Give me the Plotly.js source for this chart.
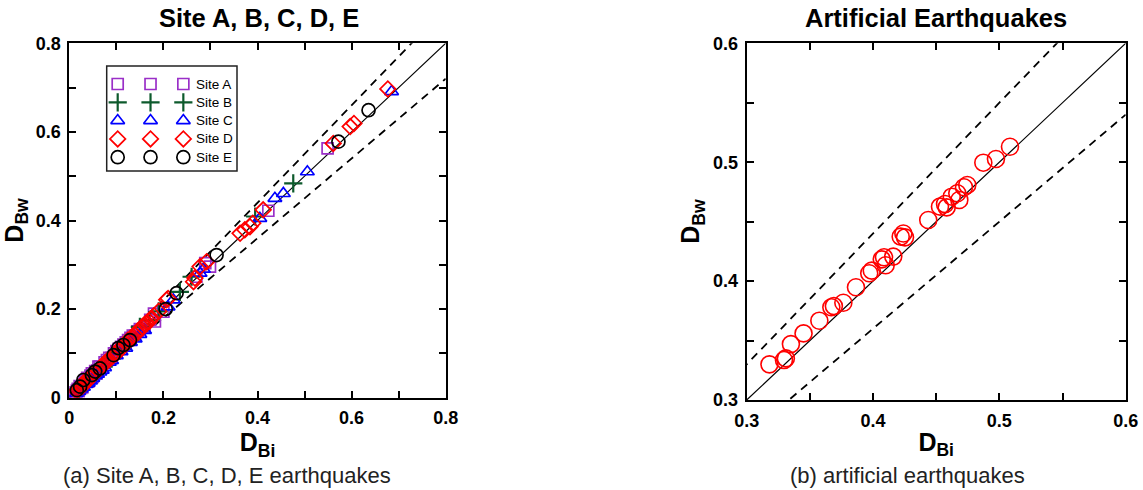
<!DOCTYPE html>
<html>
<head>
<meta charset="utf-8">
<script src="https://cdn.plot.ly/plotly-3.0.1.min.js"></script>
<style>
  html, body { margin: 0; padding: 0; background: #fff; }
  #chart { width: 1143px; height: 490px; }
</style>
</head>
<body>
<div id="chart"></div>
<script>
// ---------- Data ----------
const siteLabels = ['Site A', 'Site B', 'Site C', 'Site D', 'Site E'];

const siteA_x = [0.008, 0.010, 0.012, 0.012, 0.015, 0.016, 0.018, 0.020, 0.022, 0.025, 0.028, 0.030, 0.033, 0.035, 0.038, 0.040, 0.042, 0.045, 0.048, 0.050, 0.055, 0.058, 0.060, 0.062, 0.065, 0.070, 0.075, 0.080, 0.085, 0.090, 0.095, 0.100, 0.105, 0.110, 0.115, 0.120, 0.125, 0.130, 0.135, 0.140, 0.145, 0.150, 0.160, 0.172, 0.180, 0.182, 0.200, 0.270, 0.289, 0.299, 0.423, 0.549];
const siteA_y = [0.005, 0.008, 0.006, 0.012, 0.010, 0.016, 0.020, 0.015, 0.026, 0.022, 0.024, 0.030, 0.036, 0.040, 0.045, 0.036, 0.040, 0.050, 0.055, 0.047, 0.060, 0.055, 0.062, 0.070, 0.070, 0.068, 0.080, 0.085, 0.090, 0.090, 0.100, 0.105, 0.110, 0.115, 0.120, 0.125, 0.130, 0.135, 0.140, 0.140, 0.150, 0.155, 0.160, 0.176, 0.190, 0.172, 0.194, 0.273, 0.304, 0.296, 0.422, 0.563];

const siteB_x = [0.020, 0.030, 0.050, 0.070, 0.090, 0.110, 0.130, 0.150, 0.170, 0.190, 0.235, 0.260, 0.395, 0.476];
const siteB_y = [0.020, 0.028, 0.052, 0.072, 0.088, 0.112, 0.128, 0.160, 0.175, 0.195, 0.239, 0.273, 0.409, 0.484];

const siteC_x = [0.015, 0.020, 0.025, 0.030, 0.035, 0.040, 0.045, 0.050, 0.055, 0.060, 0.065, 0.070, 0.075, 0.085, 0.090, 0.100, 0.110, 0.120, 0.130, 0.140, 0.150, 0.160, 0.210, 0.221, 0.278, 0.285, 0.405, 0.437, 0.455, 0.506, 0.685];
const siteC_y = [0.010, 0.014, 0.020, 0.024, 0.030, 0.033, 0.038, 0.044, 0.050, 0.053, 0.058, 0.062, 0.068, 0.080, 0.084, 0.095, 0.104, 0.112, 0.125, 0.133, 0.143, 0.152, 0.205, 0.221, 0.281, 0.290, 0.405, 0.450, 0.461, 0.510, 0.691];

const siteD_x = [0.015, 0.018, 0.020, 0.025, 0.028, 0.030, 0.032, 0.035, 0.040, 0.045, 0.050, 0.055, 0.060, 0.065, 0.070, 0.075, 0.080, 0.085, 0.090, 0.095, 0.100, 0.105, 0.110, 0.115, 0.120, 0.125, 0.130, 0.135, 0.140, 0.145, 0.150, 0.155, 0.160, 0.165, 0.170, 0.175, 0.180, 0.190, 0.207, 0.210, 0.264, 0.267, 0.278, 0.292, 0.363, 0.373, 0.384, 0.390, 0.412, 0.561, 0.597, 0.605, 0.677];
const siteD_y = [0.015, 0.018, 0.022, 0.025, 0.026, 0.030, 0.034, 0.038, 0.040, 0.045, 0.050, 0.056, 0.062, 0.066, 0.072, 0.078, 0.082, 0.086, 0.092, 0.098, 0.100, 0.108, 0.110, 0.118, 0.122, 0.130, 0.132, 0.138, 0.142, 0.150, 0.152, 0.160, 0.165, 0.170, 0.172, 0.180, 0.185, 0.195, 0.221, 0.224, 0.262, 0.270, 0.296, 0.307, 0.371, 0.379, 0.386, 0.394, 0.424, 0.574, 0.612, 0.619, 0.697];

const siteE_x = [0.016, 0.023, 0.030, 0.048, 0.055, 0.065, 0.094, 0.104, 0.115, 0.129, 0.205, 0.228, 0.313, 0.572, 0.636];
const siteE_y = [0.017, 0.025, 0.040, 0.051, 0.059, 0.066, 0.096, 0.112, 0.119, 0.130, 0.200, 0.236, 0.322, 0.578, 0.649];

const artificial_x = [0.318, 0.3295, 0.331, 0.335, 0.345, 0.3575, 0.367, 0.369, 0.3765, 0.3865, 0.397, 0.399, 0.4069, 0.4087, 0.410, 0.416, 0.4219, 0.424, 0.4253, 0.4437, 0.453, 0.457, 0.4583, 0.4623, 0.4683, 0.4667, 0.472, 0.4746, 0.4873, 0.4973, 0.5084];
const artificial_y = [0.330, 0.3336, 0.335, 0.347, 0.356, 0.3667, 0.378, 0.379, 0.3818, 0.3948, 0.4066, 0.4088, 0.4183, 0.420, 0.4133, 0.4206, 0.4374, 0.440, 0.4368, 0.4514, 0.4626, 0.4648, 0.462, 0.471, 0.4682, 0.4739, 0.4789, 0.4808, 0.4996, 0.5027, 0.513];

// reference lines: 1:1 and +/-10 %
const refRatios = [1.0, 1.1, 0.9];

// ---------- Styling ----------
const FONT = 'Liberation Sans, Arial, Helvetica, sans-serif';
const siteStyles = [
  {symbol: 'square-open',       color: '#9a2fc8', size: 11},
  {symbol: 'cross-thin-open',   color: '#0d5a2c', size: 13},
  {symbol: 'triangle-up-open',  color: '#0000ff', size: 12},
  {symbol: 'diamond-open',      color: '#ff0000', size: 12},
  {symbol: 'circle-open',       color: '#000000', size: 13}
];
const siteXs = [siteA_x, siteB_x, siteC_x, siteD_x, siteE_x];
const siteYs = [siteA_y, siteB_y, siteC_y, siteD_y, siteE_y];

const traces = [];

function refLines(lo, hi, xa, ya) {
  refRatios.forEach((r, i) => {
    const xs = [lo, hi];
    traces.push({
      x: xs, y: xs.map(v => v * r), xaxis: xa, yaxis: ya,
      mode: 'lines', showlegend: false, hoverinfo: 'skip',
      line: {color: '#000', width: i === 0 ? 1.2 : 1.8, dash: i === 0 ? 'solid' : '8px,6px'}
    });
  });
}
refLines(0, 0.8, 'x', 'y');
refLines(0.25, 0.6, 'x2', 'y2');

siteXs.forEach((xs, i) => {
  const s = siteStyles[i];
  traces.push({
    x: xs, y: siteYs[i], xaxis: 'x', yaxis: 'y', mode: 'markers', name: siteLabels[i],
    showlegend: false,
    marker: {symbol: s.symbol, size: s.size, color: s.color, line: {color: s.color, width: s.symbol === 'cross-thin-open' ? 2.2 : 1.7}}
  });
});

traces.push({
  x: artificial_x, y: artificial_y, xaxis: 'x2', yaxis: 'y2', mode: 'markers', showlegend: false,
  marker: {symbol: 'circle-open', size: 17, color: '#ff0000', line: {color: '#ff0000', width: 1.6}}
});

// custom legend (three symbols per row, as in the reference)
const legendCols = [1, 2, 3];
const annotations = [];
siteLabels.forEach((lab, i) => {
  const s = siteStyles[i];
  traces.push({
    x: legendCols, y: legendCols.map(() => i + 1), xaxis: 'x3', yaxis: 'y3', mode: 'markers', showlegend: false,
    hoverinfo: 'skip',
    marker: {symbol: s.symbol, size: s.size, color: s.color, line: {color: s.color, width: s.symbol === 'cross-thin-open' ? 2.2 : 1.7}}
  });
  annotations.push({
    xref: 'x3', yref: 'y3', x: 3.33, y: i + 1, text: lab, showarrow: false,
    xanchor: 'left', yanchor: 'middle', font: {family: FONT, size: 13.5, color: '#000'}
  });
});

// ---------- Layout ----------
const W = 1143, H = 490;
const px = v => v / W;
const py = v => 1 - v / H;

function axisCommon(range, dtick, minorDtick) {
  return {
    range: range, dtick: dtick, tick0: 0,
    ticks: 'inside', ticklen: 7, tickwidth: 2, tickcolor: '#000',
    minor: {dtick: minorDtick, ticks: 'inside', ticklen: 7, tickwidth: 2, tickcolor: '#000', showgrid: false},
    showline: true, linewidth: 2, linecolor: '#000', mirror: 'ticks',
    showgrid: false, zeroline: false,
    tickfont: {family: FONT, size: 18, color: '#000', weight: 'bold'},
    ticklabelstandoff: 3,
    fixedrange: true
  };
}

const xTitle = {text: 'D<sub>Bi</sub>', font: {family: FONT, size: 25, color: '#000', weight: 'bold'}, standoff: 4};
const yTitle = {text: 'D<sub>Bw</sub>', font: {family: FONT, size: 25, color: '#000', weight: 'bold'}, standoff: 6};

const layout = {
  width: W, height: H,
  margin: {l: 0, r: 0, t: 0, b: 0},
  paper_bgcolor: '#fff', plot_bgcolor: 'rgba(0,0,0,0)',
  showlegend: false,
  xaxis: Object.assign(axisCommon([0, 0.8], 0.2, 0.1), {domain: [px(69.3), px(445.7)], anchor: 'y', title: xTitle}),
  yaxis: Object.assign(axisCommon([0, 0.8], 0.2, 0.1), {domain: [py(397.7), py(43.3)], anchor: 'x', title: yTitle}),
  xaxis2: Object.assign(axisCommon([0.3, 0.6], 0.1, 0.05), {domain: [px(746.7), px(1125.7)], anchor: 'y2', title: xTitle}),
  yaxis2: Object.assign(axisCommon([0.3, 0.6], 0.1, 0.05), {domain: [py(400), py(43.3)], anchor: 'x2', title: yTitle}),
  xaxis3: {domain: [px(106.7), px(237)], anchor: 'y3', range: [0.665, 4.635], visible: false, fixedrange: true},
  yaxis3: {domain: [py(171), py(66)], anchor: 'x3', range: [5.754, 0.016], visible: false, fixedrange: true},
  shapes: [
    {type: 'rect', xref: 'paper', yref: 'paper', x0: px(106.7), x1: px(237), y0: py(171), y1: py(66),
     line: {color: '#222', width: 1.5}, fillcolor: 'rgba(0,0,0,0)', layer: 'above'}
  ],
  annotations: annotations.concat([
    {xref: 'paper', yref: 'paper', x: px(259), y: py(18), text: 'Site A, B, C, D, E', showarrow: false,
     xanchor: 'center', yanchor: 'middle', font: {family: FONT, size: 25.5, color: '#000', weight: 'bold'}},
    {xref: 'paper', yref: 'paper', x: px(936), y: py(18), text: 'Artificial Earthquakes', showarrow: false,
     xanchor: 'center', yanchor: 'middle', font: {family: FONT, size: 25.5, color: '#000', weight: 'bold'}},
    {xref: 'paper', yref: 'paper', x: px(227), y: py(475), text: '(a) Site A, B, C, D, E earthquakes', showarrow: false,
     xanchor: 'center', yanchor: 'middle', font: {family: FONT, size: 22, color: '#222'}},
    {xref: 'paper', yref: 'paper', x: px(907), y: py(475), text: '(b) artificial earthquakes', showarrow: false,
     xanchor: 'center', yanchor: 'middle', font: {family: FONT, size: 22, color: '#222'}}
  ])
};

Plotly.newPlot('chart', traces, layout, {staticPlot: true, displayModeBar: false});
</script>
</body>
</html>
